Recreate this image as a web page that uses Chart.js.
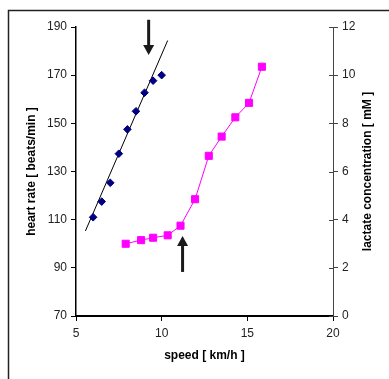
<!DOCTYPE html>
<html>
<head>
<meta charset="utf-8">
<script src="https://cdn.jsdelivr.net/npm/chart.js@4.4.0/dist/chart.umd.min.js"></script>
<style>
  html, body { margin: 0; padding: 0; background: #fff; }
</style>
</head>
<body>
<canvas id="g_hr" width="389" height="379"></canvas>
<script>
// heart rate (blue diamonds) vs speed
const speed_hr = [6, 6.5, 7, 7.5, 8, 8.5, 9, 9.5, 10]
const heart_rate = [111, 117.5, 125.3, 137.4, 147.5, 155, 162.7, 167.7, 170]
// lactate (magenta squares) vs speed
const speed_lac = [7.9, 8.8, 9.5, 10.35, 11.1, 11.95, 12.75, 13.5, 14.3, 15.1, 15.85]
const lactate = [3.0, 3.15, 3.25, 3.35, 3.75, 4.85, 6.65, 7.45, 8.25, 8.85, 10.35]
// linear fit through the heart rate points
const trend_speed = [5.55, 10.35]
const trend_hr = [105.3, 184.4]
// threshold arrows (data units)
const arrow_hr = { x: 9.24, from: 193, to: 178.4 }
const arrow_lac = { x: 11.22, from: 1.83, to: 3.32 }

const FONT = "'Liberation Sans', Arial, sans-serif"

const pts = (xs, ys) => xs.map((x, i) => ({ x: x, y: ys[i] }))

const extras = {
    id: "extras",
    beforeDraw(chart) {
        const ctx = chart.ctx
        ctx.save()
        ctx.fillStyle = "#fff"
        ctx.fillRect(0, 0, chart.width, chart.height)
        // outer frame (runs off the right and bottom)
        ctx.strokeStyle = "#222"
        ctx.lineWidth = 1.5
        ctx.beginPath()
        ctx.moveTo(8.5, chart.height + 5)
        ctx.lineTo(8.5, 10.5)
        ctx.lineTo(chart.width + 5, 10.5)
        ctx.stroke()
        ctx.restore()
    },
    afterDatasetsDraw(chart) {
        const ctx = chart.ctx
        const sx = chart.scales.x
        const drawArrow = (x, y0, y1) => {
            const dir = y1 > y0 ? 1 : -1
            ctx.save()
            ctx.strokeStyle = "#1a1a1a"
            ctx.fillStyle = "#1a1a1a"
            ctx.lineWidth = 3
            ctx.beginPath()
            ctx.moveTo(x, y0)
            ctx.lineTo(x, y1 - dir * 8)
            ctx.stroke()
            ctx.beginPath()
            ctx.moveTo(x, y1)
            ctx.lineTo(x - 5.5, y1 - dir * 10)
            ctx.lineTo(x + 5.5, y1 - dir * 10)
            ctx.closePath()
            ctx.fill()
            ctx.restore()
        }
        drawArrow(sx.getPixelForValue(arrow_hr.x), chart.scales.y.getPixelForValue(arrow_hr.from), chart.scales.y.getPixelForValue(arrow_hr.to))
        drawArrow(sx.getPixelForValue(arrow_lac.x), chart.scales.y2.getPixelForValue(arrow_lac.from), chart.scales.y2.getPixelForValue(arrow_lac.to))
    },
    afterDraw(chart) {
        const ctx = chart.ctx
        const a = chart.chartArea
        const s2 = chart.scales.y2
        ctx.save()
        // right axis ticks also poke inside the plot
        ctx.strokeStyle = "#444"
        ctx.lineWidth = 1
        s2.ticks.forEach(t => {
            const py = Math.round(s2.getPixelForValue(t.value)) + 0.5
            ctx.beginPath()
            ctx.moveTo(a.right - 4, py)
            ctx.lineTo(a.right, py)
            ctx.stroke()
        })
        // right axis title reads bottom-to-top
        ctx.translate(368, (a.top + a.bottom) / 2)
        ctx.rotate(-Math.PI / 2)
        ctx.font = "bold 12px " + FONT
        ctx.fillStyle = "#000"
        ctx.textAlign = "center"
        ctx.textBaseline = "middle"
        ctx.fillText("lactate concentration [ mM ]", 0, 0)
        ctx.restore()
    }
}

const tickFont = { family: FONT, size: 12 }
const titleFont = { family: FONT, size: 12, weight: "bold" }

new Chart(document.getElementById("g_hr"), {
    type: "scatter",
    data: {
        datasets: [
            {
                label: "heart rate",
                data: pts(speed_hr, heart_rate),
                pointStyle: "rectRot",
                pointRadius: 3.8,
                borderWidth: 1,
                backgroundColor: "#000080",
                borderColor: "#000080",
                yAxisID: "y"
            },
            {
                label: "trend",
                data: pts(trend_speed, trend_hr),
                showLine: true,
                pointRadius: 0,
                borderColor: "#000",
                borderWidth: 1,
                yAxisID: "y"
            },
            {
                label: "lactate",
                data: pts(speed_lac, lactate),
                showLine: true,
                pointStyle: "rect",
                pointRadius: 5,
                borderWidth: 1,
                backgroundColor: "#ff00ff",
                borderColor: "#ff00ff",
                yAxisID: "y2"
            }
        ]
    },
    options: {
        responsive: false,
        animation: false,
        layout: { padding: { top: 27, left: 0, right: 0, bottom: 0 } },
        plugins: {
            legend: { display: false },
            tooltip: { enabled: false }
        },
        scales: {
            x: {
                type: "linear",
                position: "bottom",
                min: 5,
                max: 20,
                afterFit: s => { s.height = 63 },
                ticks: { stepSize: 5, font: tickFont, color: "#222", padding: 5 },
                grid: { drawOnChartArea: false, tickLength: 5, color: "#000", lineWidth: 1 },
                border: { color: "#000", width: 2 },
                title: { display: true, text: "speed [ km/h ]", font: titleFont, color: "#000", padding: { top: 0, bottom: 16 } }
            },
            y: {
                position: "left",
                min: 70,
                max: 190,
                afterFit: s => { s.width = 76 },
                ticks: { stepSize: 20, font: tickFont, color: "#222", padding: 4 },
                grid: { drawOnChartArea: false, tickLength: 5, color: "#000", lineWidth: 1 },
                border: { color: "#000", width: 1.5 },
                title: { display: true, text: "heart rate [ beats/min ]", font: titleFont, color: "#000", padding: { top: 24, bottom: 0 } }
            },
            y2: {
                position: "right",
                min: 0,
                max: 12,
                afterFit: s => { s.width = 56 },
                ticks: { stepSize: 2, font: tickFont, color: "#222", padding: 4 },
                grid: { drawOnChartArea: false, tickLength: 5, color: "#444", lineWidth: 1 },
                border: { color: "#444", width: 1 }
            }
        }
    },
    plugins: [extras]
})
</script>
</body>
</html>
